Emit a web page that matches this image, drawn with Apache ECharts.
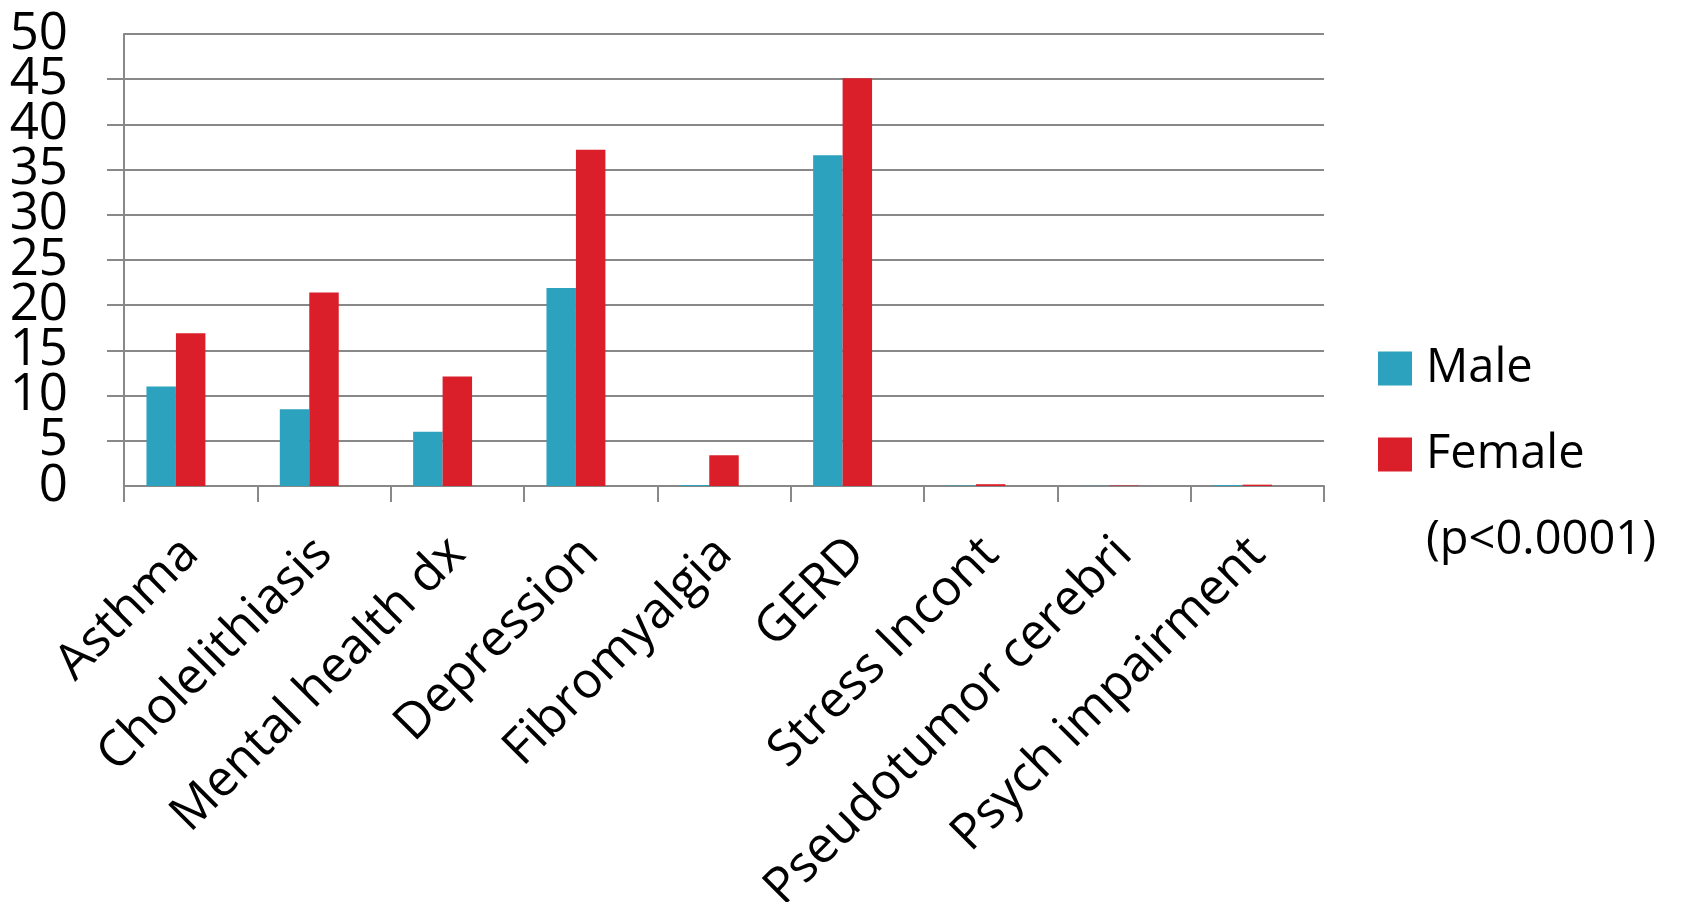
<!DOCTYPE html>
<html><head><meta charset="utf-8">
<script src="https://cdn.jsdelivr.net/npm/echarts@6/dist/echarts.min.js"></script>
<style>html,body{margin:0;padding:0;background:#fff}#c{width:1707px;height:902px}</style>
</head><body><div id="c"></div>
<script>
const categories = ['Asthma','Cholelithiasis','Mental health dx','Depression','Fibromyalgia','GERD','Stress Incont','Pseudotumor cerebri','Psych impairment'];
const male = [11.0, 8.5, 6.0, 21.9, 0.1, 36.6, 0.05, 0.02, 0.1];
const female = [16.9, 21.4, 12.1, 37.2, 3.4, 45.1, 0.2, 0.05, 0.15];
const pNote = [null, null, null, null, null, null, null, null, null];
const yTicks = [0, 5, 10, 15, 20, 25, 30, 35, 40, 45, 50];

const FONT = 'Open Sans';
const GRAY = '#888888';
const yMin = yTicks[0], yMax = yTicks[yTicks.length - 1];
const yLabelStyle = { fontFamily: FONT, fontSize: 51, color: '#000', margin: 56, padding: [0,0,14,0] };
const chart = echarts.init(document.getElementById('c'));
chart.setOption({
  animation: false,
  backgroundColor: '#ffffff',
  textStyle: { fontFamily: FONT },
  grid: { left: 124, right: 383, top: 34, bottom: 416, containLabel: false, outerBoundsMode: 'none' },
  legend: {
    orient: 'vertical', left: 1373, top: 340,
    itemWidth: 34, itemHeight: 34, itemGap: 39,
    textStyle: { fontFamily: FONT, fontSize: 47, color: '#000', padding: [0,0,0,9] },
    data: [
      { name: 'Male', icon: 'rect' },
      { name: 'Female', icon: 'rect' },
      { name: '(p<0.0001)', icon: 'rect', itemStyle: { color: 'rgba(0,0,0,0)' } }
    ]
  },
  xAxis: {
    type: 'category', data: categories,
    axisLine: { lineStyle: { color: GRAY, width: 2 } },
    axisTick: { show: true, length: 16, lineStyle: { color: GRAY, width: 2 } },
    axisLabel: { rotate: 45, fontFamily: FONT, fontSize: 50, color: '#000', margin: 60, interval: 0 }
  },
  yAxis: [
    {
      type: 'value', min: yMin, max: yMax, interval: yTicks[1] - yTicks[0], position: 'left',
      axisLine: { show: true, lineStyle: { color: GRAY, width: 2 } },
      axisTick: { show: true, length: 17, lineStyle: { color: GRAY, width: 2 } },
      splitLine: { lineStyle: { color: GRAY, width: 2 } },
      axisLabel: Object.assign({ showMinLabel: false, showMaxLabel: false }, yLabelStyle)
    },
    {
      type: 'value', min: yMin, max: yMax, interval: yMax - yMin, position: 'left',
      axisLine: { show: false }, axisTick: { show: false }, splitLine: { show: false },
      axisLabel: Object.assign({ showMinLabel: true, showMaxLabel: true }, yLabelStyle)
    }
  ],
  series: [
    { name: 'Male', type: 'bar', yAxisIndex: 0, data: male, itemStyle: { color: '#2CA2BF' }, barGap: '0%', barCategoryGap: '33.7%' },
    { name: 'Female', type: 'bar', yAxisIndex: 0, data: female, itemStyle: { color: '#DA1F2A' }, barGap: '0%', barCategoryGap: '33.7%' },
    { name: '(p<0.0001)', type: 'bar', yAxisIndex: 0, data: pNote, itemStyle: { color: 'rgba(0,0,0,0)' }, barGap: '0%', barCategoryGap: '33.7%' }
  ]
});
</script></body></html>
